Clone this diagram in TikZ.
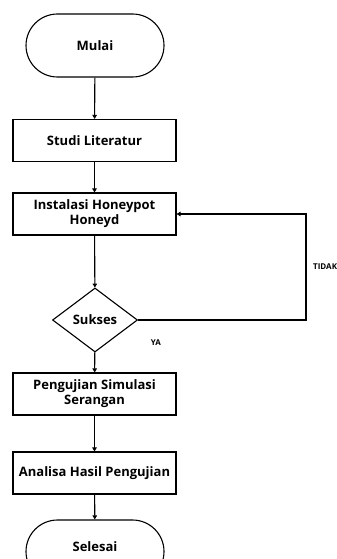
\documentclass[tikz,border=0pt]{standalone}
\usepackage{fontspec}
\setmainfont{Open Sans}
\usetikzlibrary{arrows.meta,shapes.geometric,shapes.misc}
\begin{document}
\begin{tikzpicture}[x=1pt,y=-1pt,
  every node/.style={font=\bfseries\fontsize{13}{15}\selectfont, align=center, inner sep=0pt},
  term/.style={draw, line width=1.1pt, rounded rectangle, minimum width=138pt, minimum height=63pt},
  proc/.style={draw, line width=1.1pt, rectangle, minimum width=163pt, minimum height=42pt},
  dec/.style={draw, line width=1.1pt, diamond, minimum width=85pt, minimum height=64pt, aspect=1.33},
  arr/.style={line width=1.1pt, -{Triangle[length=4pt,width=4.5pt]}},
  lbl/.style={font=\bfseries\fontsize{8}{9}\selectfont}]
\useasboundingbox (0,0) rectangle (337,559);
\fill[white] (0,0) rectangle (337,559);
\begin{scope}
\clip (0,0) rectangle (337,559);
\node[term] (mulai) at (95,45.5) {Mulai};
\node[proc] (studi) at (94.5,140.5) {Studi Literatur};
\node[proc] (inst) at (94.5,214) {Instalasi Honeypot\\Honeyd};
\node[dec] (suk) at (95,320) {Sukses};
\node[proc] (uji) at (94.5,394) {Pengujian Simulasi\\Serangan};
\node[proc] (ana) at (94.5,473) {Analisa Hasil Pengujian};
\node[term] (sel) at (95,551.5) {\raisebox{10pt}{Selesai}};
\coordinate (c1) at (306,320);
\coordinate (c2) at (306,214);
\draw[arr] (mulai) -- (studi);
\draw[arr] (studi) -- (inst);
\draw[arr] (inst) -- (suk);
\draw[arr] (suk) -- (uji);
\draw[arr] (uji) -- (ana);
\draw[arr] (ana) -- (sel);
\draw[arr] (suk.east) -- (c1) -- (c2) -- (inst.east);
\node[lbl, anchor=west] (tidak) at (313,267) {TIDAK};
\node[lbl] (ya) at (156,343) {YA};
\end{scope}
\end{tikzpicture}
\end{document}
